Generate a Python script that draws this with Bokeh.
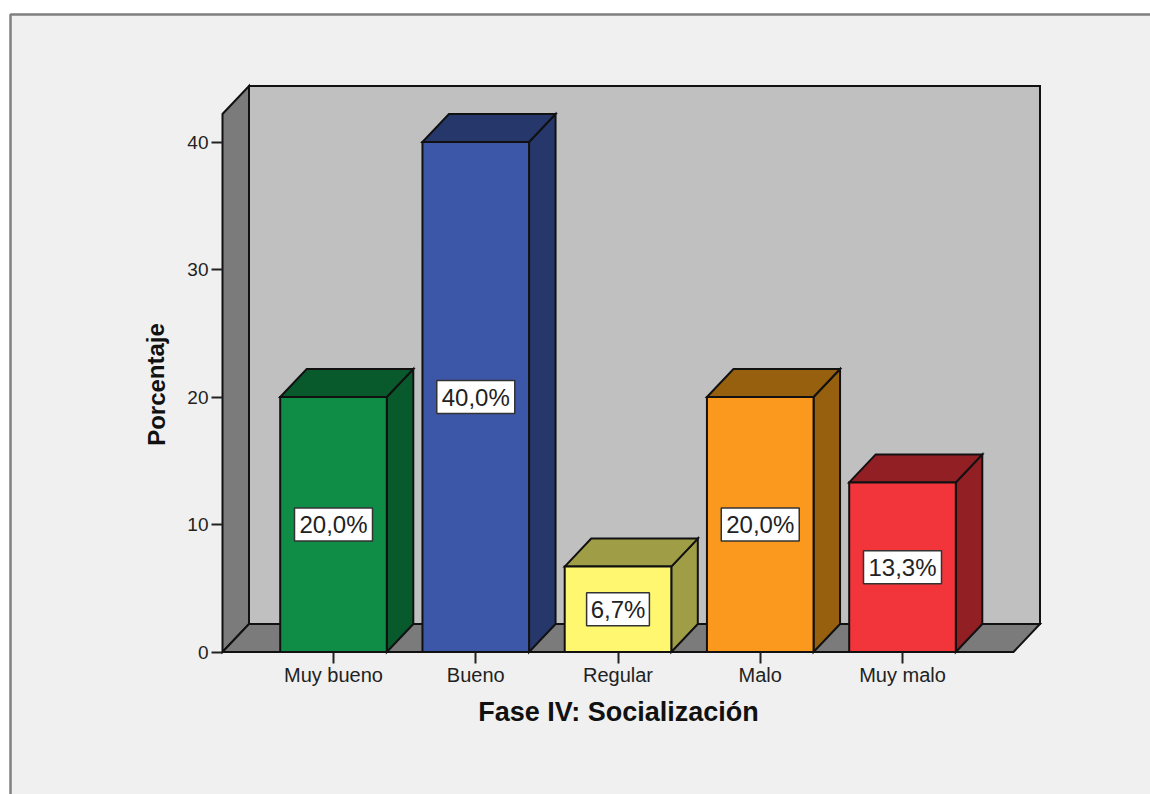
from bokeh.plotting import figure
from bokeh.models import Range1d, FixedTicker
from bokeh.core.properties import value
from bokeh.embed import file_html
from bokeh.resources import INLINE

categories = ["Muy bueno", "Bueno", "Regular", "Malo", "Muy malo"]
percent = [20.0, 40.0, 6.7, 20.0, 13.3]
labels = ["20,0%", "40,0%", "6,7%", "20,0%", "13,3%"]
front_colors = ["#0f8c46", "#3d57a8", "#fff770", "#fb991e", "#f2343b"]
dark_colors = ["#085a2d", "#26386b", "#a09d47", "#96600f", "#921f24"]
y_ticks = [0, 10, 20, 30, 40]

W, H = 1150, 794
# page-pixel calibration of the scales
PX0, PX_UNIT = 333.0, 142.25   # page x of category 0, px per category
PY0, PY_UNIT = 651.5, 12.75    # page y of value 0, px per percent
OFF = 0
x0 = (OFF - PX0) / PX_UNIT
x1 = (OFF + W - PX0) / PX_UNIT
y0 = (PY0 - (OFF + H)) / PY_UNIT
y1 = (PY0 - OFF) / PY_UNIT

DX = 26.5 / PX_UNIT            # depth of 3D effect
DY = 28.0 / PY_UNIT
HALF = 53.3 / PX_UNIT          # half bar width
LEFT = (222 - PX0) / PX_UNIT   # front-left wall edge
RIGHT = (1013 - PX0) / PX_UNIT # front-right floor edge
TOP = 42.2                     # top of the wall at its front edge

p = figure(width=W, height=H, output_backend="svg", toolbar_location=None,
           x_range=Range1d(x0, x1), y_range=Range1d(y0, y1), min_border=0,
           background_fill_color="white", border_fill_color="white")
p.grid.visible = False
p.outline_line_color = None

# outer panel
PANEL_L = (10 - PX0) / PX_UNIT
PANEL_T = (PY0 - 14) / PY_UNIT
p.quad(left=[PANEL_L], right=[x1], bottom=[y0], top=[PANEL_T], fill_color="#f0f0f0", line_color=None)
p.line([PANEL_L, PANEL_L, x1], [y0, PANEL_T, PANEL_T], line_color="#808080", line_width=2.5)

# walls and floor
outline = dict(line_color="#111111", line_width=2, line_join="miter")
p.patch([LEFT + DX, RIGHT + DX, RIGHT + DX, LEFT + DX], [DY, DY, TOP + DY, TOP + DY], fill_color="#c0c0c0", **outline)
p.patch([LEFT, LEFT + DX, LEFT + DX, LEFT], [0, DY, TOP + DY, TOP], fill_color="#7b7b7b", **outline)
p.patch([LEFT, LEFT + DX, RIGHT + DX, RIGHT], [0, DY, DY, 0], fill_color="#7b7b7b", **outline)

# bars
for i, v in enumerate(percent):
    l, r = i - HALF, i + HALF
    p.patch([r, r + DX, r + DX, r], [0, DY, v + DY, v], fill_color=dark_colors[i], **outline)
    p.patch([l, l + DX, r + DX, r], [v, v + DY, v + DY, v], fill_color=dark_colors[i], **outline)
    p.quad(left=[l], right=[r], bottom=[0], top=[v], fill_color=front_colors[i], **outline)

# value labels
xs = list(range(len(categories)))
mids = [v / 2 for v in percent]
p.rect(xs, mids, width=[len(t) * 15.2 + 2 for t in labels], height=33, width_units="screen", height_units="screen",
       fill_color="white", line_color="#333333", line_width=1.5)
p.text(xs, mids, text=labels, text_font=value("Liberation Sans"), text_font_size="24px",
       text_align="center", text_baseline="middle", text_color="#222222")

# axes
ya = p.yaxis[0]
ya.fixed_location = LEFT
ya.ticker = FixedTicker(ticks=y_ticks)
ya.axis_line_color = None
ya.major_tick_in = 0
ya.major_tick_out = 11
ya.major_tick_line_color = "#222222"
ya.major_tick_line_width = 2
ya.major_label_text_font = "Liberation Sans"
ya.major_label_text_font_size = "19px"
ya.major_label_text_color = "#222222"
ya.major_label_standoff = 3
ya.minor_tick_line_color = None

xa = p.xaxis[0]
xa.fixed_location = 0
xa.ticker = FixedTicker(ticks=xs)
xa.major_label_overrides = dict(zip(xs, categories))
xa.axis_line_color = None
xa.major_tick_in = 0
xa.major_tick_out = 11
xa.major_tick_line_color = "#222222"
xa.major_tick_line_width = 2
xa.major_label_text_font = "Liberation Sans"
xa.major_label_text_font_size = "20px"
xa.major_label_text_color = "#222222"
xa.major_label_standoff = 1
xa.minor_tick_line_color = None

# axis titles
TITLE_X = (618 - PX0) / PX_UNIT
TITLE_Y = (PY0 - 711) / PY_UNIT
p.text([TITLE_X], [TITLE_Y], text=["Fase IV: Socialización"], text_font=value("Liberation Sans"),
       text_font_style="bold", text_font_size="27px", text_align="center", text_baseline="middle", text_color="#111111")
YT_X = (155.5 - PX0) / PX_UNIT
YT_Y = (PY0 - 384) / PY_UNIT
p.text([YT_X], [YT_Y], text=["Porcentaje"], angle=1.5708, text_font=value("Liberation Sans"),
       text_font_style="bold", text_font_size="24px", text_align="center", text_baseline="middle", text_color="#111111")

open("out.html", "w").write(file_html(p, INLINE))
